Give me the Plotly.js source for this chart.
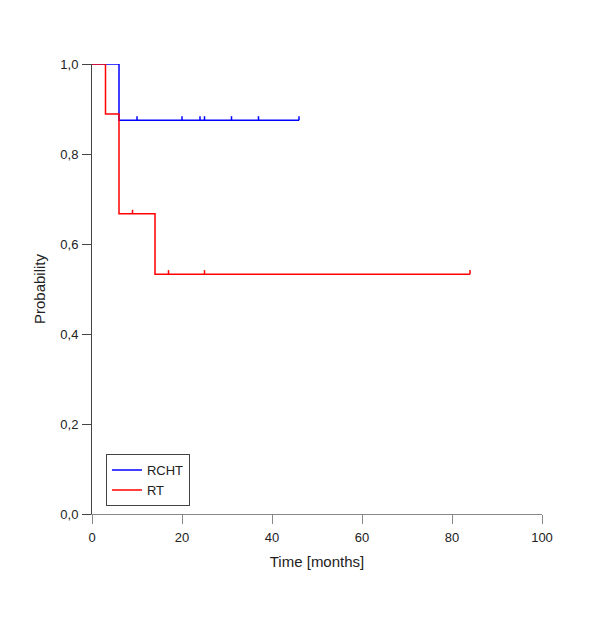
<!DOCTYPE html>
<html>
<head>
<meta charset="utf-8">
<script src="https://cdn.plot.ly/plotly-3.0.1.min.js"></script>
<style>
  html, body { margin: 0; padding: 0; background: #fff; }
  #plot { width: 600px; height: 631px; }
</style>
</head>
<body>
<div id="plot"></div>
<script>
// Kaplan-Meier steps
const rchtTime = [0, 6, 46];
const rchtSurv = [1.0, 0.875, 0.875];
const rchtCensor = [10, 20, 24, 25, 31, 37, 46];

const rtTime = [0, 3, 6, 14, 84];
const rtSurv = [1.0, 0.889, 0.667, 0.533, 0.533];
const rtCensor = [9, 17, 25, 84];

const xTicks = [0, 20, 40, 60, 80, 100];
const yTicks = [0, 0.2, 0.4, 0.6, 0.8, 1.0];

function survAt(times, surv, t) {
  let s = surv[0];
  for (let i = 0; i < times.length; i++) {
    if (times[i] <= t) s = surv[i];
  }
  return s;
}

function censorTrace(times, surv, censor, color) {
  const x = [], y = [];
  censor.forEach(t => {
    const s = survAt(times, surv, t);
    x.push(t, t, null);
    y.push(s, s + 0.009, null);
  });
  return {
    x, y, type: 'scatter', mode: 'lines', showlegend: false,
    line: { color, width: 1.5 }, hoverinfo: 'skip', cliponaxis: false
  };
}

const traces = [
  {
    x: rchtTime, y: rchtSurv, name: 'RCHT', type: 'scatter', mode: 'lines',
    line: { color: '#0000ff', width: 1.5, shape: 'hv' }, cliponaxis: false
  },
  {
    x: rtTime, y: rtSurv, name: 'RT', type: 'scatter', mode: 'lines',
    line: { color: '#ff0000', width: 1.5, shape: 'hv' }, cliponaxis: false
  },
  censorTrace(rchtTime, rchtSurv, rchtCensor, '#0000ff'),
  censorTrace(rtTime, rtSurv, rtCensor, '#ff0000')
];

const layout = {
  width: 600,
  height: 631,
  margin: { l: 92, r: 58, t: 64, b: 117 },
  paper_bgcolor: '#fff',
  plot_bgcolor: '#fff',
  separators: ',.',
  font: { family: 'Liberation Sans, Arial, sans-serif', size: 13, color: '#222' },
  xaxis: {
    range: [0, 100],
    tickvals: xTicks,
    ticks: 'outside', ticklen: 9, tickcolor: '#888', tickwidth: 1,
    ticklabelstandoff: 2,
    showline: true, linecolor: '#888', linewidth: 1,
    showgrid: false, zeroline: false,
    title: { text: 'Time [months]', font: { size: 15 }, standoff: 12 }
  },
  yaxis: {
    range: [0, 1],
    tickvals: yTicks,
    tickformat: '.1f',
    ticks: 'outside', ticklen: 9, tickcolor: '#444', tickwidth: 1,
    ticklabelstandoff: 1,
    showline: true, linecolor: '#444', linewidth: 1,
    showgrid: false, zeroline: false,
    title: { text: 'Probability', font: { size: 15 }, standoff: 11 }
  },
  legend: {
    x: 0.031, y: 0.133, xanchor: 'left', yanchor: 'top',
    bordercolor: '#444', borderwidth: 1, bgcolor: '#fff',
    font: { size: 13 }, tracegroupgap: 0
  },
  showlegend: true
};

Plotly.newPlot('plot', traces, layout, { displayModeBar: false, staticPlot: true });
</script>
</body>
</html>
